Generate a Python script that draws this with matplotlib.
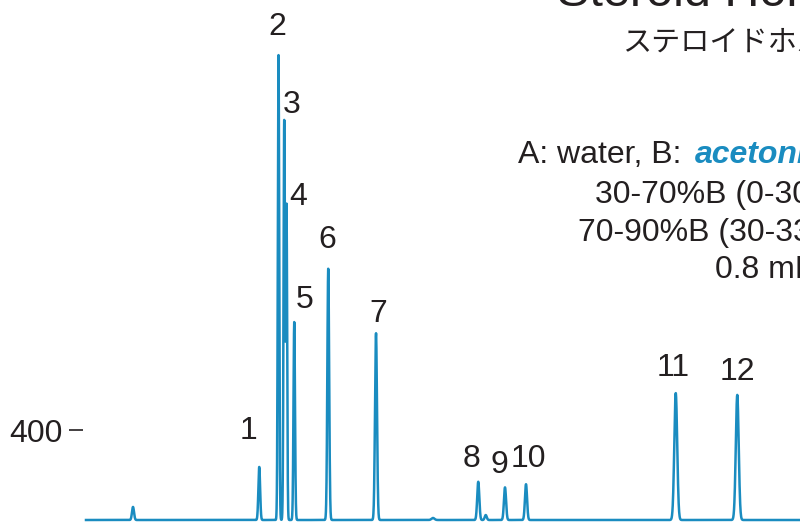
import numpy as np
import matplotlib
matplotlib.use("Agg")
import matplotlib.pyplot as plt

# peak table: retention time (min), height (a.u.), width sigma (min), label
rt = [1.88, 6.93, 7.70, 7.93, 8.02, 8.33, 9.69, 11.60, 13.88, 15.69, 15.99, 16.76, 17.60, 23.59, 26.05]
height = [58, 236, 2067, 1780, 1396, 880, 1119, 831, 9, 170, 22, 145, 159, 564, 556]
sigma = [0.04, 0.035, 0.028, 0.028, 0.026, 0.03, 0.036, 0.04, 0.06, 0.042, 0.04, 0.042, 0.042, 0.058, 0.058]
labels = ["", "1", "2", "3", "4", "5", "6", "7", "", "8", "", "9", "10", "11", "12"]

# label offsets in pixels (dx, dy) from the peak top
label_off = {"1": (-11, 28), "2": (-1.5, 20), "3": (7.4, 7), "4": (11.5, 1),
             "5": (10.7, 14), "6": (-0.6, 20), "7": (2, 11), "8": (-6.6, 15),
             "9": (-6, 14.6), "10": (2, 17.6), "11": (-2.7, 17), "12": (0, 15)}

blue = "#1a8cc0"
dark = "#231f20"
fs = 23

plt.rcParams['font.family'] = ['Liberation Sans', 'Noto Sans CJK JP', 'DejaVu Sans']

t = np.linspace(0, 29, 6000)
signal = np.zeros_like(t)
for r, h, s in zip(rt, height, sigma):
    signal += h * np.exp(-0.5 * ((t - r) / s) ** 2)

fig = plt.figure(figsize=(8, 5.24), dpi=100)
ax = fig.add_axes([83 / 800, 0, 1 - 83 / 800, 1])
px_per_min = 25.0
u_per_px = 400 / 90.0
ax.set_xlim(-3 / px_per_min, (800 - 86) / px_per_min)
ax.set_ylim(-4 * u_per_px, 520 * u_per_px)

ax.plot(t, signal, color=blue, lw=1.8, solid_joinstyle='round')

for r, h, lab in zip(rt, height, labels):
    if lab:
        dx, dy = label_off[lab]
        ax.annotate(lab, xy=(r, h), xytext=(dx, dy), textcoords='offset pixels',
                    ha='center', va='baseline', fontsize=fs, color=dark)

for sp in ax.spines.values():
    sp.set_visible(False)
ax.set_xticks([])
ax.set_yticks([400])
ax.set_yticklabels(["400"])
ax.tick_params(axis='y', length=10, width=1.2, color=dark, pad=5,
               labelsize=fs, labelcolor=dark)

def ftxt(x, y, s, **kw):
    fig.text(x / 800, 1 - y / 524, s, va='baseline', color=dark, **kw)

ftxt(557, 6, "Steroid Hormones", fontsize=35)
ftxt(622, 51, "ステロイドホルモン", fontsize=21, family=['Noto Sans CJK JP', 'DejaVu Sans'])
ftxt(518, 163, "A: water, B:", fontsize=fs)
fig.text(695 / 800, 1 - 163 / 524, "acetonitrile", va='baseline', color=blue,
         fontsize=fs, fontweight='bold', fontstyle='italic')
ftxt(595, 203, "30-70%B (0-30 min)", fontsize=fs)
ftxt(578, 241, "70-90%B (30-33 min)", fontsize=fs)
ftxt(715, 278, "0.8 mL/min", fontsize=fs)

fig.savefig("out.png", dpi=100)
